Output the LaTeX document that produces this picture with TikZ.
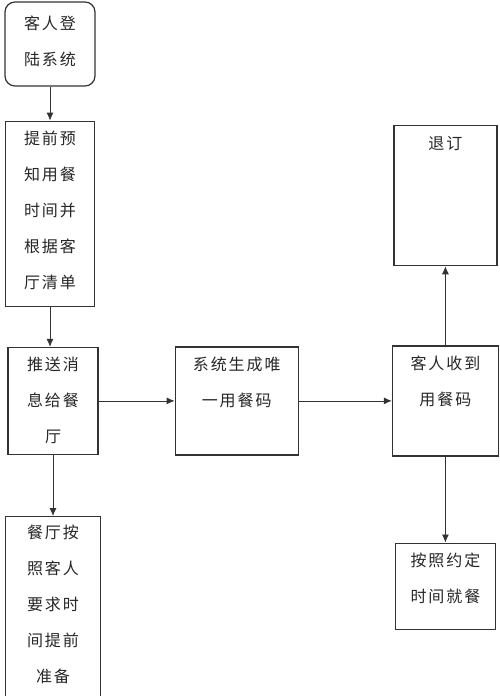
\documentclass[tikz,border=0pt]{standalone}
\usepackage{fontspec}
\newfontfamily\cjk[LetterSpace=12]{Noto Sans CJK SC}
\usetikzlibrary{shapes,arrows,arrows.meta,positioning}
\tikzstyle{block} = [draw=black!80, line width=1.2pt, rectangle, inner sep=0pt]
\tikzstyle{txt} = [align=center, inner sep=0pt, text=black!85,
    font={\cjk\fontsize{16}{36}\selectfont}]
\tikzstyle{line} = [draw=black!80, line width=0.8pt, ->]

\begin{document}
\begin{tikzpicture}[auto, >={Latex[length=8pt,width=7pt]}]
    \useasboundingbox (0,0) rectangle (500pt,-696pt);
    % left column
    \node [block, rounded corners=10pt, minimum width=90pt,
            minimum height=84pt] (login) at (50pt,-44pt) {};
    \node [block, below=34pt of login, minimum width=89pt,
            minimum height=185pt] (predict) {};
    \node [block, below=40pt of predict, xshift=3pt, minimum width=90pt,
            minimum height=107pt] (push) {};
    \node [block, below=61pt of push, minimum width=95pt,
            minimum height=180pt] (prep) {};
    % middle and right
    \node [block, right=76pt of push, minimum width=123pt,
            minimum height=108pt] (code) {};
    \node [block, right=93pt of code, minimum width=106pt,
            minimum height=110pt] (recv) {};
    \node [block, above=79pt of recv, minimum width=103pt,
            minimum height=140pt] (cancel) {};
    \node [block, below=86pt of recv, minimum width=100pt,
            minimum height=86pt] (dine) {};

    % texts sit near the top of each box
    \node [txt, below=14pt of login.north] (logintxt) {客人登\\陆系统};
    \node [txt, below=10pt of predict.north] (predicttxt)
        {提前预\\知用餐\\时间并\\根据客\\厅清单};
    \node [txt, below=10pt of push.north] (pushtxt) {推送消\\息给餐\\厅};
    \node [txt, below=9pt of prep.north] (preptxt)
        {餐厅按\\照客人\\要求时\\间提前\\准备};
    \node [txt, below=10pt of code.north] (codetxt) {系统生成唯\\一用餐码};
    \node [txt, below=10pt of recv.north] (recvtxt) {客人收到\\用餐码};
    \node [txt, below=11pt of cancel.north] (canceltxt) {退订};
    \node [txt, below=10pt of dine.north] (dinetxt) {按照约定\\时间就餐};

    % connectors
    \draw [line] (login) -- (predict);
    \draw [line] (predict.south) -- (predict.south |- push.north);
    \draw [line] (push) -- (prep);
    \draw [line] (push) -- (code);
    \draw [line] (code) -- (recv);
    \draw [line] (recv) -- (recv |- cancel.south);
    \draw [line] (recv) -- (recv |- dine.north);
\end{tikzpicture}
\end{document}
